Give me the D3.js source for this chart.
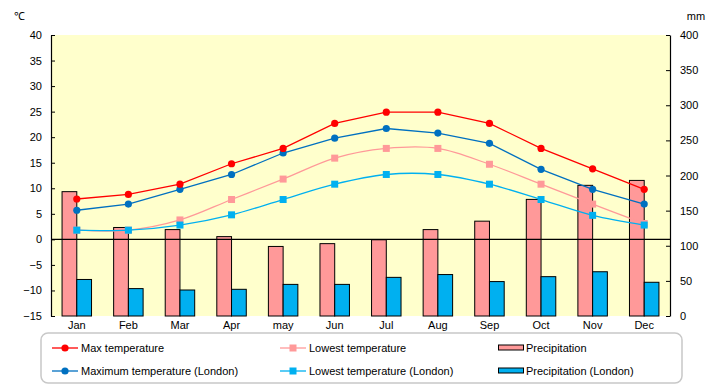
<!DOCTYPE html>
<html>
<head>
<meta charset="utf-8">
<script src="https://cdn.jsdelivr.net/npm/d3@7"></script>
<style>
  body { margin: 0; background: #fff; }
  svg text { font-family: "Liberation Sans", Arial, sans-serif; fill: #000; }
</style>
</head>
<body>
<div id="chart"></div>
<script>
// chart data
const months = ["Jan", "Feb", "Mar", "Apr", "may", "Jun", "Jul", "Aug", "Sep", "Oct", "Nov", "Dec"];
const maxTemp = [7.9, 8.8, 10.8, 14.8, 17.8, 22.7, 24.9, 24.9, 22.7, 17.8, 13.8, 9.8];
const lowTemp = [1.8, 1.8, 3.8, 7.8, 11.8, 15.9, 17.8, 17.8, 14.7, 10.8, 6.9, 3.1];
const maxTempLondon = [5.7, 6.9, 9.8, 12.7, 16.9, 19.8, 21.7, 20.8, 18.8, 13.7, 9.8, 6.9];
const lowTempLondon = [1.8, 1.8, 2.8, 4.8, 7.8, 10.8, 12.7, 12.7, 10.8, 7.8, 4.7, 2.8];
const precip = [177, 126, 123, 113, 99, 103, 108.5, 123, 135, 166, 186, 193];
const precipLondon = [52, 39, 37, 38, 45, 45, 55, 59, 49, 56, 63, 48];
const tempTicks = d3.range(-15, 41, 5);
const mmTicks = d3.range(0, 401, 50);

const w = 720, h = 385;
const plot = {left: 51, right: 670, top: 35, bottom: 316};

const svg = d3.select("#chart").append("svg")
  .attr("width", w)
  .attr("height", h);

/** scales */
const x = d3.scaleBand().domain(months).range([plot.left, plot.right]);
const barW = x.bandwidth() / 3.5;
const xBar = d3.scaleBand().domain(["p", "l"])
  .range([x.bandwidth() / 2 - barW, x.bandwidth() / 2 + barW]);
const yT = d3.scaleLinear().domain([-15, 40]).range([plot.bottom, plot.top]);
const yP = d3.scaleLinear().domain([0, 400]).range([plot.bottom, plot.top]);
const cx = (m) => x(m) + x.bandwidth() / 2;

// plot background
svg.append("rect")
  .attr("x", plot.left).attr("y", plot.top)
  .attr("width", plot.right - plot.left)
  .attr("height", plot.bottom - plot.top)
  .attr("fill", "#FFFFCC");

// bars
const bars = [
  {key: "p", values: precip, color: "#FF9999"},
  {key: "l", values: precipLondon, color: "#00B0F0"}
];
bars.forEach(function(b) {
  svg.append("g").selectAll("rect")
    .data(months)
    .enter()
    .append("rect")
    .attr("x", (m) => x(m) + xBar(b.key))
    .attr("width", xBar.bandwidth())
    .attr("y", (m, i) => yP(b.values[i]))
    .attr("height", (m, i) => plot.bottom - yP(b.values[i]))
    .attr("fill", b.color)
    .attr("stroke", "#000")
    .attr("stroke-width", 1);
});

// zero line
svg.append("line")
  .attr("x1", plot.left).attr("x2", plot.right)
  .attr("y1", yT(0)).attr("y2", yT(0))
  .attr("stroke", "#000").attr("stroke-width", 1.2);

// axes
svg.append("g")
  .attr("transform", "translate(" + plot.left + ",0)")
  .call(d3.axisLeft(yT).tickValues(tempTicks).tickSize(-4).tickSizeOuter(0).tickPadding(9))
  .call((g) => g.selectAll("text").style("font-size", "11px"));
svg.append("g")
  .attr("transform", "translate(" + plot.right + ",0)")
  .call(d3.axisRight(yP).tickValues(mmTicks).tickSize(-4).tickSizeOuter(0).tickPadding(10))
  .call((g) => g.selectAll("text").style("font-size", "11px"));
svg.append("g")
  .attr("transform", "translate(0," + plot.bottom + ")")
  .call(d3.axisBottom(x).tickSize(0).tickPadding(5))
  .call((g) => g.select(".domain").remove())
  .call((g) => g.selectAll("text").style("font-size", "11px"));
svg.selectAll(".domain").attr("stroke-width", 1.2);

// unit labels
svg.append("text").attr("x", 19).attr("y", 20)
  .attr("text-anchor", "middle").style("font-size", "11px").text("℃");
svg.append("text").attr("x", 696).attr("y", 20)
  .attr("text-anchor", "middle").style("font-size", "11px").text("mm");

// lines
const series = [
  {name: "Max temperature", values: maxTemp, color: "#FF0000", shape: "circle", smooth: false},
  {name: "Lowest temperature", values: lowTemp, color: "#FF9999", shape: "square", smooth: true},
  {name: "Maximum temperature (London)", values: maxTempLondon, color: "#0070C0", shape: "circle", smooth: false},
  {name: "Lowest temperature (London)", values: lowTempLondon, color: "#00B0F0", shape: "square", smooth: true}
];
const drawOrder = [1, 3, 2, 0];
drawOrder.forEach(function(k) {
  const s = series[k];
  const line = d3.line()
    .x((d, i) => cx(months[i]))
    .y((d) => yT(d))
    .curve(s.smooth ? d3.curveCatmullRom.alpha(0) : d3.curveLinear);
  svg.append("path")
    .attr("d", line(s.values))
    .attr("fill", "none")
    .attr("stroke", s.color)
    .attr("stroke-width", 1.3);
  const g = svg.append("g");
  if (s.shape === "circle") {
    g.selectAll("circle").data(s.values).enter().append("circle")
      .attr("cx", (d, i) => cx(months[i]))
      .attr("cy", (d) => yT(d))
      .attr("r", 3.6)
      .attr("fill", s.color);
  } else {
    g.selectAll("rect").data(s.values).enter().append("rect")
      .attr("x", (d, i) => cx(months[i]) - 3.5)
      .attr("y", (d) => yT(d) - 3.5)
      .attr("width", 7).attr("height", 7)
      .attr("fill", s.color);
  }
});

/** legend */
const legend = svg.append("g");
legend.append("rect")
  .attr("x", 41).attr("y", 333)
  .attr("width", 641).attr("height", 50)
  .attr("rx", 7)
  .attr("fill", "#fff")
  .attr("stroke", "#C8C8C8")
  .attr("stroke-width", 1.5);

const legendItems = [
  {s: series[0], x: 52, y: 348},
  {s: series[1], x: 280, y: 348},
  {s: series[2], x: 52, y: 371},
  {s: series[3], x: 280, y: 371}
];
legendItems.forEach(function(it) {
  legend.append("line")
    .attr("x1", it.x).attr("x2", it.x + 26)
    .attr("y1", it.y).attr("y2", it.y)
    .attr("stroke", it.s.color).attr("stroke-width", 1.3);
  if (it.s.shape === "circle") {
    legend.append("circle").attr("cx", it.x + 13).attr("cy", it.y).attr("r", 3.6).attr("fill", it.s.color);
  } else {
    legend.append("rect").attr("x", it.x + 9.5).attr("y", it.y - 3.5)
      .attr("width", 7).attr("height", 7).attr("fill", it.s.color);
  }
  legend.append("text")
    .attr("x", it.x + 29).attr("y", it.y + 4)
    .style("font-size", "11px")
    .text(it.s.name);
});
const barLegend = [
  {name: "Precipitation", color: "#FF9999", y: 348},
  {name: "Precipitation (London)", color: "#00B0F0", y: 371}
];
barLegend.forEach(function(b) {
  legend.append("rect")
    .attr("x", 498.5).attr("y", b.y - 3)
    .attr("width", 25).attr("height", 5)
    .attr("fill", b.color).attr("stroke", "#000");
  legend.append("text")
    .attr("x", 526).attr("y", b.y + 4)
    .style("font-size", "11px")
    .text(b.name);
});
</script>
</body>
</html>
